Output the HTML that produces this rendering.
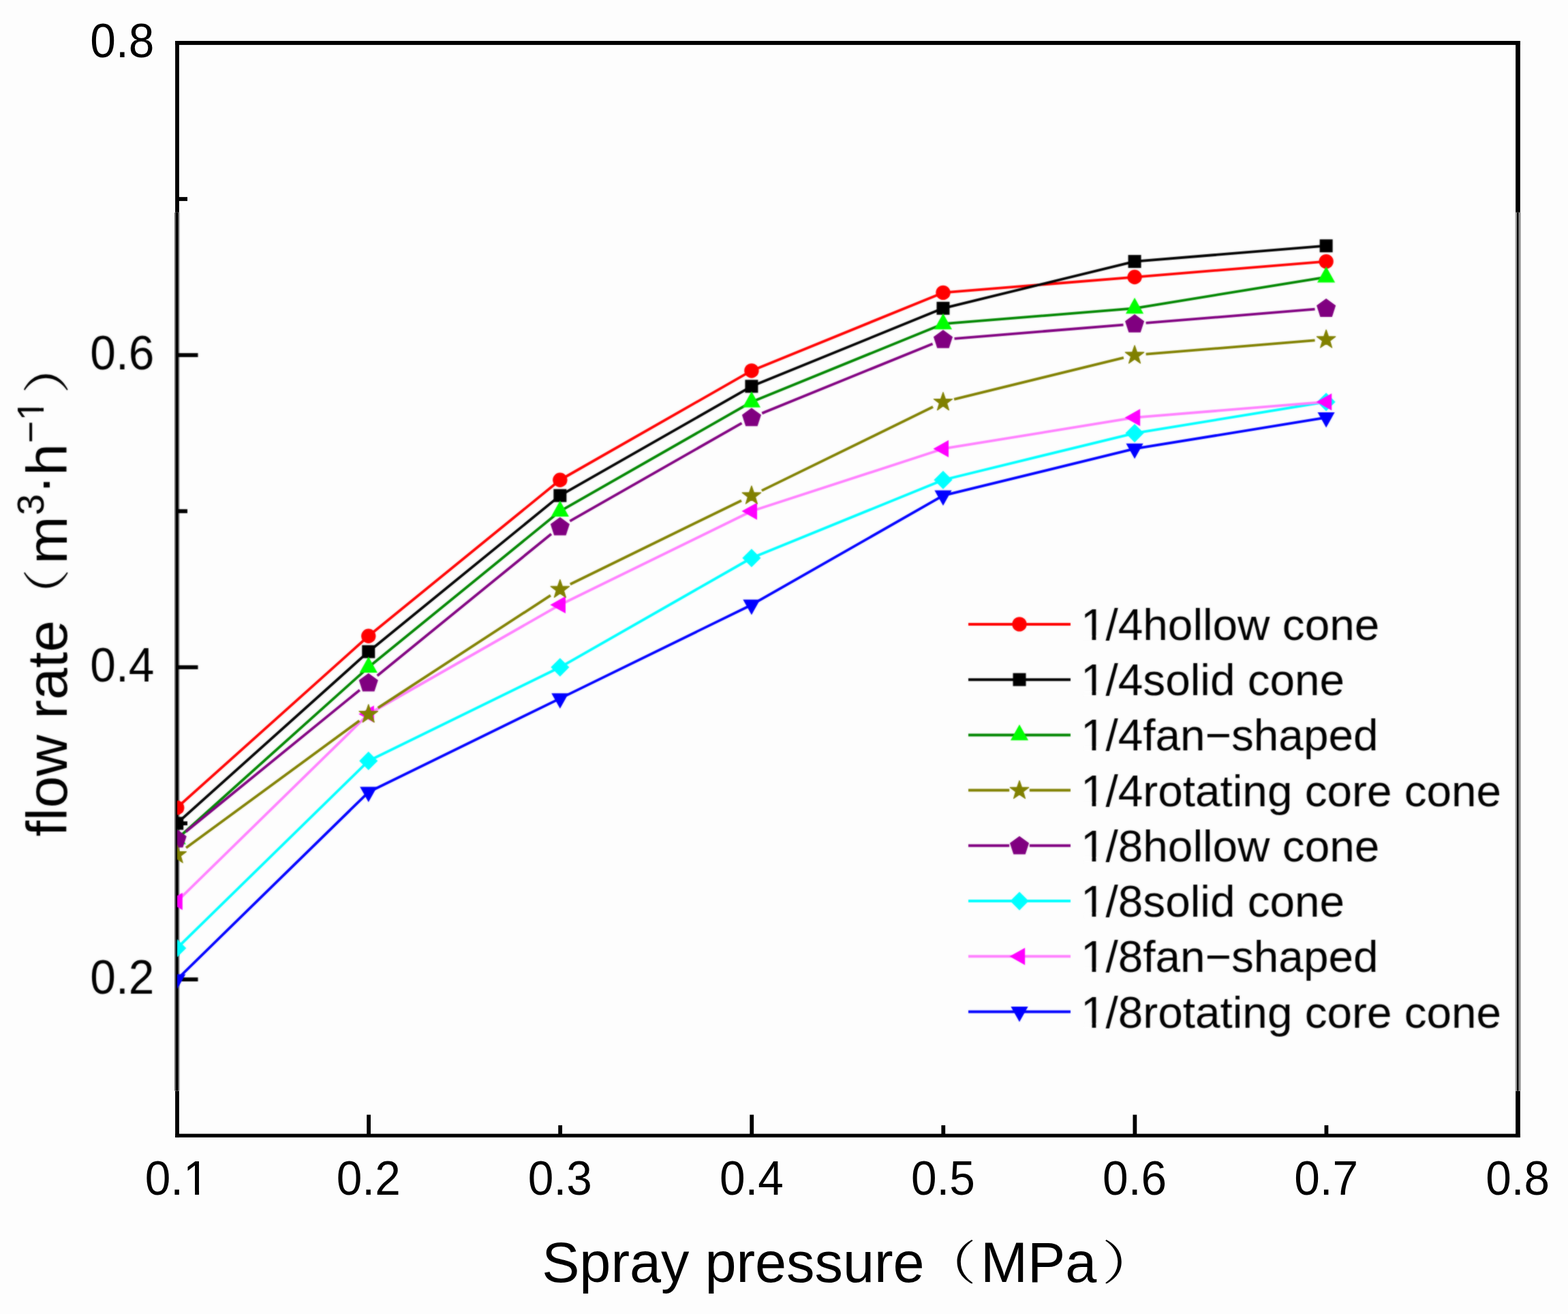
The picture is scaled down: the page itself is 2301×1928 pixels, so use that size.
<!DOCTYPE html>
<html lang="en"><head><meta charset="utf-8"><title>Flow rate versus spray pressure</title>
<style>
html,body{margin:0;padding:0;background:#fdfdfd;}
body{width:2301px;height:1928px;overflow:hidden;}
svg{display:block;}
text{font-family:"Liberation Sans","Noto Serif CJK SC",sans-serif;fill:#000;}
.tick{font-size:69.5px;}
.xt{font-size:82.8px;}
.yt{font-size:84px;}
.leg{font-size:65.7px;}
.cjk{font-family:"Noto Serif CJK SC","Noto Sans CJK SC",serif;font-weight:400;font-size:69px;}
.sup{font-size:56px;}
</style></head><body>
<svg width="2301" height="1928" viewBox="0 0 2301 1928">
<defs><clipPath id="plotclip"><rect x="260" y="63" width="1967.5" height="1603.1"/></clipPath><filter id="soft" filterUnits="userSpaceOnUse" x="0" y="300" width="2301" height="1310" color-interpolation-filters="sRGB"><feGaussianBlur stdDeviation="1" result="b"/><feComposite in="SourceGraphic" in2="b" operator="arithmetic" k1="0" k2="0.45" k3="0.55" k4="0"/></filter></defs>
<rect x="0" y="0" width="2301" height="1928" fill="#fdfdfd"/>
<g id="frame" fill="#000">
<rect x="257.1" y="60" width="1973.8" height="5.9"/>
<rect x="257.1" y="1663.6" width="1973.8" height="5.3"/>
<rect x="257.1" y="60" width="5.8" height="251.8"/>
<rect x="257.1" y="1600.6" width="5.8" height="68.3"/>
<rect x="256" y="311.8" width="2.1" height="1288.8" fill="#6a6a6a"/>
<rect x="258" y="311.8" width="4" height="1288.8"/>
<rect x="261.9" y="311.8" width="2.1" height="1288.8" fill="#a8a8a8"/>
<rect x="2224.1" y="60" width="6.8" height="251.8"/>
<rect x="2224.1" y="1600.6" width="6.8" height="68.3"/>
<rect x="2223.6" y="311.8" width="2.5" height="1288.8" fill="#9c9c9c"/>
<rect x="2226" y="311.8" width="2.8" height="1288.8"/>
<rect x="2228.7" y="311.8" width="2.9" height="1288.8" fill="#8c8c8c"/>
<rect x="538.17" y="1635.6" width="5.8" height="30.5"/>
<rect x="819.24" y="1651.1" width="5.8" height="15"/>
<rect x="1100.31" y="1635.6" width="5.8" height="30.5"/>
<rect x="1381.39" y="1651.1" width="5.8" height="15"/>
<rect x="1662.46" y="1635.6" width="5.8" height="30.5"/>
<rect x="1943.53" y="1651.1" width="5.8" height="15"/>
<rect x="260" y="289.11" width="15" height="5.8"/>
</g>
<g id="band" filter="url(#soft)">
<g id="yticks-marks" fill="#000">
<rect x="260" y="518.13" width="30.5" height="5.8"/>
<rect x="260" y="747.14" width="15" height="5.8"/>
<rect x="260" y="976.16" width="30.5" height="5.8"/>
<rect x="260" y="1205.17" width="15" height="5.8"/>
<rect x="260" y="1434.19" width="30.5" height="5.8"/>
</g>
<g id="data" clip-path="url(#plotclip)">
<g fill="none" stroke="#ff0000" stroke-width="3.8">
<polyline stroke-linejoin="round" points="259.7,1185.17 540.77,933.25 821.84,704.24 1102.91,543.93 1383.99,429.42 1665.06,406.52 1946.13,383.62"/>
</g>
<g>
<circle cx="259.7" cy="1185.17" r="10.7" fill="#ff0000"/>
<circle cx="540.77" cy="933.25" r="10.7" fill="#ff0000"/>
<circle cx="821.84" cy="704.24" r="10.7" fill="#ff0000"/>
<circle cx="1102.91" cy="543.93" r="10.7" fill="#ff0000"/>
<circle cx="1383.99" cy="429.42" r="10.7" fill="#ff0000"/>
<circle cx="1665.06" cy="406.52" r="10.7" fill="#ff0000"/>
<circle cx="1946.13" cy="383.62" r="10.7" fill="#ff0000"/>
</g>
<g fill="none" stroke="#000000" stroke-width="3.8">
<polyline stroke-linejoin="round" points="259.7,1208.07 540.77,956.16 821.84,727.14 1102.91,566.83 1383.99,452.32 1665.06,383.62 1946.13,360.72"/>
</g>
<g>
<rect x="250.2" y="1198.57" width="19" height="19" fill="#000000"/>
<rect x="531.27" y="946.66" width="19" height="19" fill="#000000"/>
<rect x="812.34" y="717.64" width="19" height="19" fill="#000000"/>
<rect x="1093.41" y="557.33" width="19" height="19" fill="#000000"/>
<rect x="1374.49" y="442.82" width="19" height="19" fill="#000000"/>
<rect x="1655.56" y="374.12" width="19" height="19" fill="#000000"/>
<rect x="1936.63" y="351.22" width="19" height="19" fill="#000000"/>
</g>
<g fill="none" stroke="#008600" stroke-width="3.8">
<polyline stroke-linejoin="round" points="259.7,1230.97 540.77,979.06 821.84,750.04 1102.91,589.73 1383.99,475.23 1665.06,452.32 1946.13,406.52"/>
</g>
<g>
<polygon points="259.7,1215.47 272.8,1238.87 246.6,1238.87" fill="#00ff00"/>
<polygon points="540.77,963.56 553.87,986.96 527.67,986.96" fill="#00ff00"/>
<polygon points="821.84,734.54 834.94,757.94 808.74,757.94" fill="#00ff00"/>
<polygon points="1102.91,574.23 1116.01,597.63 1089.81,597.63" fill="#00ff00"/>
<polygon points="1383.99,459.73 1397.09,483.13 1370.89,483.13" fill="#00ff00"/>
<polygon points="1665.06,436.82 1678.16,460.22 1651.96,460.22" fill="#00ff00"/>
<polygon points="1946.13,391.02 1959.23,414.42 1933.03,414.42" fill="#00ff00"/>
</g>
<g fill="none" stroke="#800080" stroke-width="3.8">
<line x1="272.57" y1="1220.49" x2="527.9" y2="1012.44"/>
<line x1="553.64" y1="991.47" x2="808.97" y2="783.43"/>
<line x1="836.26" y1="764.72" x2="1088.49" y2="620.86"/>
<line x1="1118.29" y1="606.37" x2="1368.61" y2="504.39"/>
<line x1="1400.53" y1="496.78" x2="1648.51" y2="476.57"/>
<line x1="1681.6" y1="473.88" x2="1929.58" y2="453.67"/>
</g>
<g>
<polygon points="259.7,1216.77 273.78,1227 268.4,1243.55 251,1243.55 245.62,1227" fill="#800080"/>
<polygon points="540.77,987.76 554.85,997.99 549.47,1014.53 532.07,1014.53 526.7,997.99" fill="#800080"/>
<polygon points="821.84,758.74 835.92,768.97 830.54,785.52 813.14,785.52 807.77,768.97" fill="#800080"/>
<polygon points="1102.91,598.43 1116.99,608.66 1111.61,625.21 1094.22,625.21 1088.84,608.66" fill="#800080"/>
<polygon points="1383.99,483.93 1398.06,494.15 1392.68,510.7 1375.29,510.7 1369.91,494.15" fill="#800080"/>
<polygon points="1665.06,461.03 1679.13,471.25 1673.76,487.8 1656.36,487.8 1650.98,471.25" fill="#800080"/>
<polygon points="1946.13,438.12 1960.2,448.35 1954.83,464.9 1937.43,464.9 1932.05,448.35" fill="#800080"/>
</g>
<g fill="none" stroke="#00ffff" stroke-width="3.8">
<polyline stroke-linejoin="round" points="259.7,1391.28 540.77,1116.47 821.84,979.06 1102.91,818.75 1383.99,704.24 1665.06,635.54 1946.13,589.73"/>
</g>
<g>
<polygon points="259.7,1377.68 273.3,1391.28 259.7,1404.88 246.1,1391.28" fill="#00ffff"/>
<polygon points="540.77,1102.87 554.37,1116.47 540.77,1130.07 527.17,1116.47" fill="#00ffff"/>
<polygon points="821.84,965.46 835.44,979.06 821.84,992.66 808.24,979.06" fill="#00ffff"/>
<polygon points="1102.91,805.15 1116.51,818.75 1102.91,832.35 1089.31,818.75" fill="#00ffff"/>
<polygon points="1383.99,690.64 1397.59,704.24 1383.99,717.84 1370.39,704.24" fill="#00ffff"/>
<polygon points="1665.06,621.94 1678.66,635.54 1665.06,649.14 1651.46,635.54" fill="#00ffff"/>
<polygon points="1946.13,576.13 1959.73,589.73 1946.13,603.33 1932.53,589.73" fill="#00ffff"/>
</g>
<g fill="none" stroke="#ff80ff" stroke-width="3.8">
<polyline stroke-linejoin="round" points="259.7,1322.58 540.77,1047.76 821.84,887.45 1102.91,750.04 1383.99,658.44 1665.06,612.63 1946.13,589.73"/>
</g>
<g>
<polygon points="245.2,1322.58 267.8,1309.98 267.8,1335.18" fill="#ff00ff"/>
<polygon points="526.27,1047.76 548.87,1035.16 548.87,1060.36" fill="#ff00ff"/>
<polygon points="807.34,887.45 829.94,874.85 829.94,900.05" fill="#ff00ff"/>
<polygon points="1088.41,750.04 1111.01,737.44 1111.01,762.64" fill="#ff00ff"/>
<polygon points="1369.49,658.44 1392.09,645.84 1392.09,671.04" fill="#ff00ff"/>
<polygon points="1650.56,612.63 1673.16,600.03 1673.16,625.23" fill="#ff00ff"/>
<polygon points="1931.63,589.73 1954.23,577.13 1954.23,602.33" fill="#ff00ff"/>
</g>
<g fill="none" stroke="#0000ff" stroke-width="3.8">
<polyline stroke-linejoin="round" points="259.7,1437.09 540.77,1162.27 821.84,1024.86 1102.91,887.45 1383.99,727.14 1665.06,658.44 1946.13,612.63"/>
</g>
<g>
<polygon points="259.7,1451.89 272.3,1429.39 247.1,1429.39" fill="#0000ff"/>
<polygon points="540.77,1177.07 553.37,1154.57 528.17,1154.57" fill="#0000ff"/>
<polygon points="821.84,1039.66 834.44,1017.16 809.24,1017.16" fill="#0000ff"/>
<polygon points="1102.91,902.25 1115.51,879.75 1090.31,879.75" fill="#0000ff"/>
<polygon points="1383.99,741.94 1396.59,719.44 1371.39,719.44" fill="#0000ff"/>
<polygon points="1665.06,673.24 1677.66,650.74 1652.46,650.74" fill="#0000ff"/>
<polygon points="1946.13,627.43 1958.73,604.93 1933.53,604.93" fill="#0000ff"/>
</g>
<g fill="none" stroke="#808000" stroke-width="3.8">
<line x1="273.09" y1="1244.06" x2="527.38" y2="1057.58"/>
<line x1="554.68" y1="1038.7" x2="807.94" y2="873.61"/>
<line x1="836.76" y1="857.26" x2="1088" y2="734.43"/>
<line x1="1117.83" y1="719.85" x2="1369.07" y2="597.02"/>
<line x1="1400.11" y1="585.79" x2="1648.93" y2="524.97"/>
<line x1="1681.6" y1="519.68" x2="1929.58" y2="499.48"/>
</g>
<g>
<polygon points="259.7,1239.77 263.09,1249.51 273.4,1249.72 265.18,1255.95 268.16,1265.82 259.7,1259.93 251.24,1265.82 254.22,1255.95 246,1249.72 256.31,1249.51" fill="#808000" stroke="#808000" stroke-width="1.3" stroke-linejoin="round"/>
<polygon points="540.77,1033.66 544.16,1043.4 554.47,1043.61 546.25,1049.84 549.24,1059.71 540.77,1053.82 532.31,1059.71 535.29,1049.84 527.08,1043.61 537.39,1043.4" fill="#808000" stroke="#808000" stroke-width="1.3" stroke-linejoin="round"/>
<polygon points="821.84,850.45 825.23,860.19 835.54,860.4 827.32,866.63 830.31,876.5 821.84,870.61 813.38,876.5 816.36,866.63 808.15,860.4 818.46,860.19" fill="#808000" stroke="#808000" stroke-width="1.3" stroke-linejoin="round"/>
<polygon points="1102.91,713.04 1106.3,722.78 1116.61,722.99 1108.39,729.22 1111.38,739.09 1102.91,733.2 1094.45,739.09 1097.44,729.22 1089.22,722.99 1099.53,722.78" fill="#808000" stroke="#808000" stroke-width="1.3" stroke-linejoin="round"/>
<polygon points="1383.99,575.63 1387.37,585.37 1397.68,585.58 1389.46,591.81 1392.45,601.68 1383.99,595.79 1375.52,601.68 1378.51,591.81 1370.29,585.58 1380.6,585.37" fill="#808000" stroke="#808000" stroke-width="1.3" stroke-linejoin="round"/>
<polygon points="1665.06,506.93 1668.44,516.67 1678.75,516.88 1670.54,523.11 1673.52,532.98 1665.06,527.09 1656.59,532.98 1659.58,523.11 1651.36,516.88 1661.67,516.67" fill="#808000" stroke="#808000" stroke-width="1.3" stroke-linejoin="round"/>
<polygon points="1946.13,484.03 1949.51,493.77 1959.82,493.98 1951.61,500.21 1954.59,510.08 1946.13,504.19 1937.66,510.08 1940.65,500.21 1932.43,493.98 1942.74,493.77" fill="#808000" stroke="#808000" stroke-width="1.3" stroke-linejoin="round"/>
</g>
</g>
<g id="yticks" class="tick" text-anchor="end">
<text x="226.3" y="541.53" textLength="94" lengthAdjust="spacingAndGlyphs">0.6</text>
<text x="226.3" y="999.56" textLength="94" lengthAdjust="spacingAndGlyphs">0.4</text>
<text x="226.3" y="1457.59" textLength="94" lengthAdjust="spacingAndGlyphs">0.2</text>
</g>
<text id="ytitle" class="yt" transform="translate(98.3 0) rotate(-90)"><tspan x="-1227.5" y="0">flow rate</tspan><tspan class="cjk" lengthAdjust="spacingAndGlyphs" x="-915" y="-4.2" textLength="80.6">（</tspan><tspan x="-827.4" y="0">m</tspan><tspan class="sup" x="-756.1" y="-34.5">3</tspan><tspan x="-725.2" y="-7.4">·</tspan><tspan x="-697.8" y="0">h</tspan><tspan class="sup" x="-650.3" y="-34.8">−1</tspan><tspan class="cjk" lengthAdjust="spacingAndGlyphs" x="-577.9" y="-4.2" textLength="82.4">）</tspan></text>
<g transform="translate(98.3 0) rotate(-90)"><rect x="-614.24" y="-40.38" width="10.72" height="6.38" fill="#fdfdfd"/><rect x="-598.57" y="-40.38" width="10.2" height="6.38" fill="#fdfdfd"/></g>
<g id="legend">
<line x1="1421" y1="915.9" x2="1571" y2="915.9" stroke="#ff0000" stroke-width="4"/>
<circle cx="1496" cy="915.9" r="10.7" fill="#ff0000"/>
<text class="leg" x="1586" y="938.9">1/4hollow cone</text>
<rect x="1589.94" y="932.59" width="12.58" height="7.11" fill="#fdfdfd"/><rect x="1608.32" y="932.59" width="11.97" height="7.11" fill="#fdfdfd"/>
<line x1="1421" y1="997.14" x2="1571" y2="997.14" stroke="#000000" stroke-width="4"/>
<rect x="1486.5" y="987.64" width="19" height="19" fill="#000000"/>
<text class="leg" x="1586" y="1020.14">1/4solid cone</text>
<rect x="1589.94" y="1013.83" width="12.58" height="7.11" fill="#fdfdfd"/><rect x="1608.32" y="1013.83" width="11.97" height="7.11" fill="#fdfdfd"/>
<line x1="1421" y1="1078.38" x2="1571" y2="1078.38" stroke="#008600" stroke-width="4"/>
<polygon points="1496,1062.88 1509.1,1086.28 1482.9,1086.28" fill="#00ff00"/>
<text class="leg" x="1586" y="1101.38">1/4fan−shaped</text>
<rect x="1589.94" y="1095.07" width="12.58" height="7.11" fill="#fdfdfd"/><rect x="1608.32" y="1095.07" width="11.97" height="7.11" fill="#fdfdfd"/>
<line x1="1421" y1="1159.62" x2="1481.2" y2="1159.62" stroke="#808000" stroke-width="4"/>
<line x1="1510.8" y1="1159.62" x2="1571" y2="1159.62" stroke="#808000" stroke-width="4"/>
<polygon points="1496,1145.52 1499.39,1155.26 1509.7,1155.47 1501.48,1161.7 1504.46,1171.57 1496,1165.68 1487.54,1171.57 1490.52,1161.7 1482.3,1155.47 1492.61,1155.26" fill="#808000" stroke="#808000" stroke-width="1.3" stroke-linejoin="round"/>
<text class="leg" x="1586" y="1182.62">1/4rotating core cone</text>
<rect x="1589.94" y="1176.31" width="12.58" height="7.11" fill="#fdfdfd"/><rect x="1608.32" y="1176.31" width="11.97" height="7.11" fill="#fdfdfd"/>
<line x1="1421" y1="1240.86" x2="1481.2" y2="1240.86" stroke="#800080" stroke-width="4"/>
<line x1="1510.8" y1="1240.86" x2="1571" y2="1240.86" stroke="#800080" stroke-width="4"/>
<polygon points="1496,1226.66 1510.08,1236.89 1504.7,1253.43 1487.3,1253.43 1481.92,1236.89" fill="#800080"/>
<text class="leg" x="1586" y="1263.86">1/8hollow cone</text>
<rect x="1589.94" y="1257.55" width="12.58" height="7.11" fill="#fdfdfd"/><rect x="1608.32" y="1257.55" width="11.97" height="7.11" fill="#fdfdfd"/>
<line x1="1421" y1="1322.1" x2="1571" y2="1322.1" stroke="#00ffff" stroke-width="4"/>
<polygon points="1496,1308.5 1509.6,1322.1 1496,1335.7 1482.4,1322.1" fill="#00ffff"/>
<text class="leg" x="1586" y="1345.1">1/8solid cone</text>
<rect x="1589.94" y="1338.79" width="12.58" height="7.11" fill="#fdfdfd"/><rect x="1608.32" y="1338.79" width="11.97" height="7.11" fill="#fdfdfd"/>
<line x1="1421" y1="1403.34" x2="1571" y2="1403.34" stroke="#ff80ff" stroke-width="4"/>
<polygon points="1481.5,1403.34 1504.1,1390.74 1504.1,1415.94" fill="#ff00ff"/>
<text class="leg" x="1586" y="1426.34">1/8fan−shaped</text>
<rect x="1589.94" y="1420.03" width="12.58" height="7.11" fill="#fdfdfd"/><rect x="1608.32" y="1420.03" width="11.97" height="7.11" fill="#fdfdfd"/>
<line x1="1421" y1="1484.58" x2="1571" y2="1484.58" stroke="#0000ff" stroke-width="4"/>
<polygon points="1496,1499.38 1508.6,1476.88 1483.4,1476.88" fill="#0000ff"/>
<text class="leg" x="1586" y="1507.58">1/8rotating core cone</text>
<rect x="1589.94" y="1501.27" width="12.58" height="7.11" fill="#fdfdfd"/><rect x="1608.32" y="1501.27" width="11.97" height="7.11" fill="#fdfdfd"/>
</g>
</g>
<g id="ytick-top" class="tick" text-anchor="end">
<text x="226.3" y="83.5" textLength="94" lengthAdjust="spacingAndGlyphs">0.8</text>
</g>
<g id="xticks" class="tick" text-anchor="middle">
<text x="259.7" y="1753.2" textLength="94" lengthAdjust="spacingAndGlyphs">0.1</text>
<text x="540.77" y="1753.2" textLength="94" lengthAdjust="spacingAndGlyphs">0.2</text>
<text x="821.84" y="1753.2" textLength="94" lengthAdjust="spacingAndGlyphs">0.3</text>
<text x="1102.91" y="1753.2" textLength="94" lengthAdjust="spacingAndGlyphs">0.4</text>
<text x="1383.99" y="1753.2" textLength="94" lengthAdjust="spacingAndGlyphs">0.5</text>
<text x="1665.06" y="1753.2" textLength="94" lengthAdjust="spacingAndGlyphs">0.6</text>
<text x="1946.13" y="1753.2" textLength="94" lengthAdjust="spacingAndGlyphs">0.7</text>
<text x="2227.2" y="1753.2" textLength="94" lengthAdjust="spacingAndGlyphs">0.8</text>
</g>
<rect x="273.15" y="1746.61" width="12.95" height="7.39" fill="#fdfdfd"/><rect x="292.07" y="1746.61" width="12.32" height="7.39" fill="#fdfdfd"/>
<text id="xtitle" class="xt"><tspan x="795.15" y="1880.6">Spray pressure</tspan><tspan class="cjk" lengthAdjust="spacingAndGlyphs" x="1352.3" y="1878.1" textLength="80.3">（</tspan><tspan x="1439" y="1880.6">MPa</tspan><tspan class="cjk" lengthAdjust="spacingAndGlyphs" x="1617.1" y="1878.1" textLength="82.4">）</tspan></text>
</svg>
</body></html>
